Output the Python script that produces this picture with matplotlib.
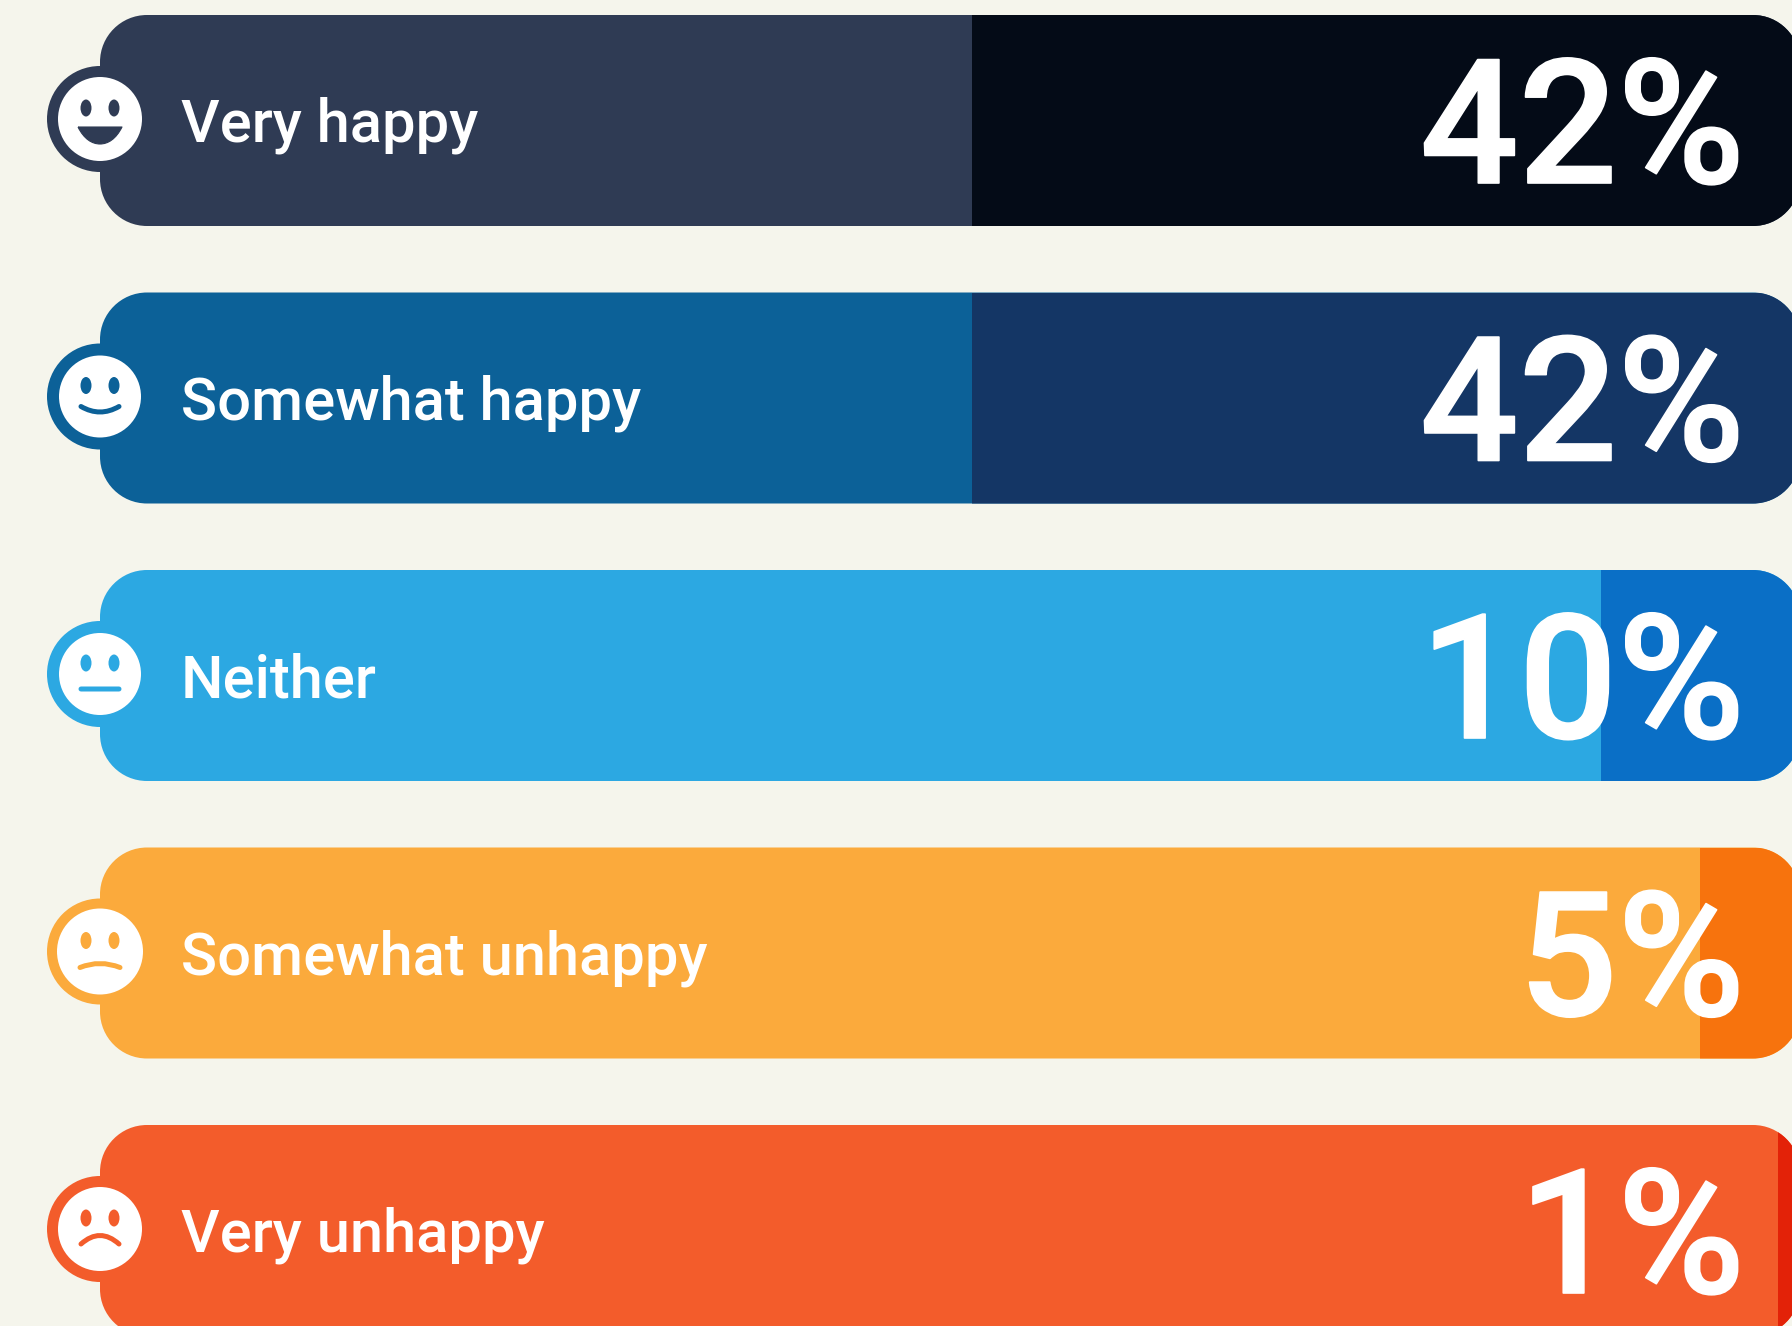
import matplotlib
matplotlib.use('Agg')
import matplotlib.pyplot as plt
from matplotlib.patches import Circle, Ellipse, PathPatch
from matplotlib.path import Path
import matplotlib.patheffects as pe

labels = ['Very happy', 'Somewhat happy', 'Neither', 'Somewhat unhappy', 'Very unhappy']
values = [42, 42, 10, 5, 1]
value_labels = ['42%', '42%', '10%', '5%', '1%']
light_colors = ['#2F3B54', '#0C6198', '#2CA8E2', '#FBAA3C', '#F35C2B']
dark_colors = ['#040B17', '#143665', '#0A6FC6', '#F7730D', '#E32208']
faces = ['grin', 'smile', 'flat', 'sad', 'frown']
face_radius = [42, 41, 41, 43, 42]

BG = '#F5F5EC'
FONT = 'Roboto'
BAR_LEFT = 100
BAR_RIGHT = 1800
BAR_H = 211
PITCH = 277.5
PX_PER_PCT = 19.66
K = 0.5523


def rounded_bar(x0, y0, x1, y1, r):
    # real circular corners, the fancy box ones come out too square
    c = r * (1 - K)
    verts = [(x0 + r, y0), (x1 - r, y0),
             (x1 - c, y0), (x1, y0 + c), (x1, y0 + r),
             (x1, y1 - r),
             (x1, y1 - c), (x1 - c, y1), (x1 - r, y1),
             (x0 + r, y1),
             (x0 + c, y1), (x0, y1 - c), (x0, y1 - r),
             (x0, y0 + r),
             (x0, y0 + c), (x0 + c, y0), (x0 + r, y0)]
    codes = [Path.MOVETO, Path.LINETO,
             Path.CURVE4, Path.CURVE4, Path.CURVE4,
             Path.LINETO,
             Path.CURVE4, Path.CURVE4, Path.CURVE4,
             Path.LINETO,
             Path.CURVE4, Path.CURVE4, Path.CURVE4,
             Path.LINETO,
             Path.CURVE4, Path.CURVE4, Path.CURVE4]
    return Path(verts, codes)


def draw_face(ax, cx, cy, r, kind, color):
    ax.add_patch(Circle((cx, cy), 53, color=color, lw=0, zorder=3))
    ax.add_patch(Circle((cx, cy), r, color='white', lw=0, zorder=4))
    for dx in (-14, 14):
        ax.add_patch(Ellipse((cx + dx, cy - 11), 11, 17, color=color, lw=0, zorder=5))

    if kind == 'grin':
        verts = [(cx - 22, cy + 8), (cx + 22, cy + 8),
                 (cx + 16, cy + 20), (cx + 8, cy + 25), (cx, cy + 25),
                 (cx - 8, cy + 25), (cx - 16, cy + 20), (cx - 22, cy + 8)]
        codes = [Path.MOVETO, Path.LINETO] + [Path.CURVE4] * 6
        ax.add_patch(PathPatch(Path(verts, codes), fc=color, ec=color, lw=0.8, joinstyle='round', zorder=5))
        return
    if kind == 'smile':
        pts = [(cx - 19, cy + 10), (cx, cy + 21), (cx + 19, cy + 10)]
    elif kind == 'flat':
        pts = [(cx - 19, cy + 15), (cx, cy + 15), (cx + 19, cy + 15)]
    elif kind == 'sad':
        pts = [(cx - 20, cy + 16), (cx, cy + 8), (cx + 20, cy + 16)]
    else:
        pts = [(cx - 19, cy + 15), (cx, cy - 2), (cx + 19, cy + 15)]
    path = Path(pts, [Path.MOVETO, Path.CURVE3, Path.CURVE3])
    ax.add_patch(PathPatch(path, fc='none', ec=color, lw=3.6, capstyle='round', zorder=5))


fig = plt.figure(figsize=(17.92, 13.26), dpi=100, facecolor=BG)
ax = fig.add_axes([0, 0, 1, 1])
ax.set_xlim(0, 1792)
ax.set_ylim(1326, 0)
ax.axis('off')

for i, label in enumerate(labels):
    top = 15 + i * PITCH
    mid = top + BAR_H / 2
    split = BAR_RIGHT - 2 - PX_PER_PCT * values[i]

    shape = PathPatch(rounded_bar(BAR_LEFT, top, BAR_RIGHT, top + BAR_H, 47),
                      fc=light_colors[i], ec='none', zorder=1)
    ax.add_patch(shape)
    dark = ax.barh(mid, BAR_RIGHT - split, left=split, height=BAR_H,
                   color=dark_colors[i], lw=0, zorder=2)
    dark[0].set_clip_path(shape)

    draw_face(ax, 100, top + 104, face_radius[i], faces[i], light_colors[i])

    ax.text(181, top + 127, label, family=FONT, fontsize=43, weight=500, color='white',
            ha='left', va='baseline', zorder=6)
    big = ax.text(1745, top + 168, value_labels[i], family=FONT, fontsize=125, weight=500,
                  color='white', ha='right', va='baseline', zorder=6)
    big.set_path_effects([pe.withStroke(linewidth=1.2, foreground='white')])

fig.savefig('out.png', dpi=100, facecolor=BG)
